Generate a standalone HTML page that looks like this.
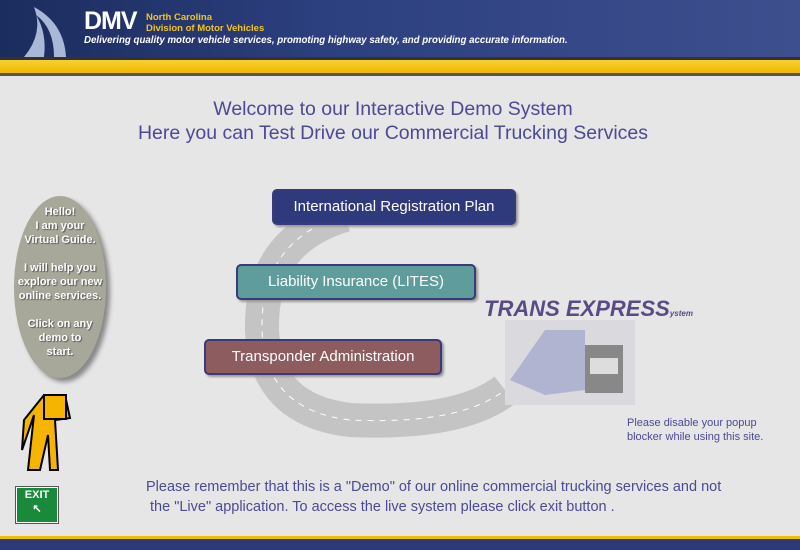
<!DOCTYPE html>
<html><head><style>
body{margin:0;width:800px;height:550px;overflow:hidden;background:#e6e6e6;font-family:"Liberation Sans",sans-serif;position:relative}
.a{position:absolute}
.btn{position:absolute;color:#fff;font-size:15px;text-align:center;border:2px solid #3a3a7a;border-radius:5px;box-shadow:2px 2px 2px #999;line-height:32px}
</style></head><body>
<div class="a" style="left:0;top:0;width:800px;height:57px;background:linear-gradient(90deg,#1b2c5e,#2c3f7e 40%,#3e4f8e)"></div>
<svg class="a" style="left:14px;top:3px" width="60" height="54"><path d="M20 4 Q50 20 52 54 L10 54 Q30 30 20 4Z" fill="#aab8d8"/><path d="M22 12 Q40 25 40 54 L30 54 Q33 30 22 12Z" fill="#1e2e60"/></svg>
<div class="a" style="left:84px;top:7px;color:#fff;font-weight:bold;font-size:25px;letter-spacing:-1px">DMV</div>
<div class="a" style="left:146px;top:12px;color:#f5c518;font-weight:bold;font-size:9.5px;line-height:11px">North Carolina<br>Division of Motor Vehicles</div>
<div class="a" style="left:84px;top:35px;color:#fff;font-style:italic;font-weight:bold;font-size:9.7px">Delivering quality motor vehicle services, promoting highway safety, and providing accurate information.</div>
<div class="a" style="left:0;top:57px;width:800px;height:3px;background:#333"></div>
<div class="a" style="left:0;top:60px;width:800px;height:13px;background:linear-gradient(#f7d030,#f0b800)"></div>
<div class="a" style="left:0;top:73px;width:800px;height:3px;background:#555"></div>
<div class="a" style="left:0;top:536px;width:800px;height:3px;background:#f0c000"></div>
<div class="a" style="left:0;top:539px;width:800px;height:11px;background:#2c3a78"></div>
<div class="a" style="left:0;top:97px;width:786px;text-align:center;color:#4a4a96;font-size:19.5px;line-height:24px">Welcome to our Interactive Demo System<br>Here you can Test Drive our Commercial Trucking Services</div>
<svg class="a" style="left:0;top:0" width="800" height="550"><path d="M345 215 Q260 240 262 330 Q265 410 350 420 Q460 425 505 390" fill="none" stroke="#c4c4c4" stroke-width="34"/><path d="M345 215 Q260 240 262 330 Q265 410 350 420 Q460 425 505 390" fill="none" stroke="#fff" stroke-width="1" stroke-dasharray="6 6"/></svg>
<div class="btn" style="left:272px;top:189px;width:240px;background:#2f3a7c">International Registration Plan</div>
<div class="btn" style="left:236px;top:264px;width:236px;background:#5f9c9c">Liability Insurance (LITES)</div>
<div class="btn" style="left:204px;top:339px;width:234px;background:#8c5c5e">Transponder Administration</div>
<svg class="a" style="left:495px;top:315px" width="150" height="95"><rect x="10" y="5" width="130" height="85" fill="#dadade"/><polygon points="50,15 90,15 90,75 50,80 15,65" fill="#b0b4d0"/><rect x="90" y="30" width="38" height="48" fill="#888"/><rect x="95" y="43" width="28" height="16" fill="#ddd"/></svg>
<div class="a" style="left:484px;top:296px;color:#5a4a86;font-weight:bold;font-size:22px;font-style:italic;letter-spacing:0px">TRANS EXPRESS<span style="font-size:8px">ystem</span></div>
<div class="a" style="left:627px;top:416px;color:#4a4a96;font-size:11px;line-height:14px">Please disable your popup<br>blocker while using this site.</div>
<div class="a" style="left:14px;top:196px;width:92px;height:182px;border-radius:50%;background:#a8a89a;box-shadow:4px 4px 5px #888"></div>
<div class="a" style="left:0px;top:205px;width:120px;text-align:center;color:#fff;font-weight:bold;font-size:11px;line-height:14px;text-shadow:1px 1px 1px #555">Hello!<br>I am your<br>Virtual Guide.<br><br>I will help you<br>explore our new<br>online services.<br><br>Click on any<br>demo to<br>start.</div>
<svg class="a" style="left:20px;top:390px" width="60" height="85"><path d="M24 5 L45 5 L50 28 L35 30 L38 80 L30 80 L28 45 L20 80 L8 80 L14 25 L2 60 L4 30 Z" fill="#f5b400" stroke="#000" stroke-width="2"/><rect x="24" y="5" width="22" height="24" fill="#f5b400" stroke="#000" stroke-width="2"/></svg>
<div class="a" style="left:16px;top:487px;width:40px;height:34px;background:#1a8a3a;border:1px solid #fff;outline:1px solid #555;color:#fff;font-weight:bold;font-size:11px;text-align:center;line-height:14px">EXIT<br>↖</div>
<div class="a" style="left:146px;top:477px;color:#4a4a96;font-size:14.5px;line-height:20px">Please remember that this is a "Demo" of our online commercial trucking services and not<br>&nbsp;the "Live" application. To access the live system please click exit button .</div>
</body></html>
